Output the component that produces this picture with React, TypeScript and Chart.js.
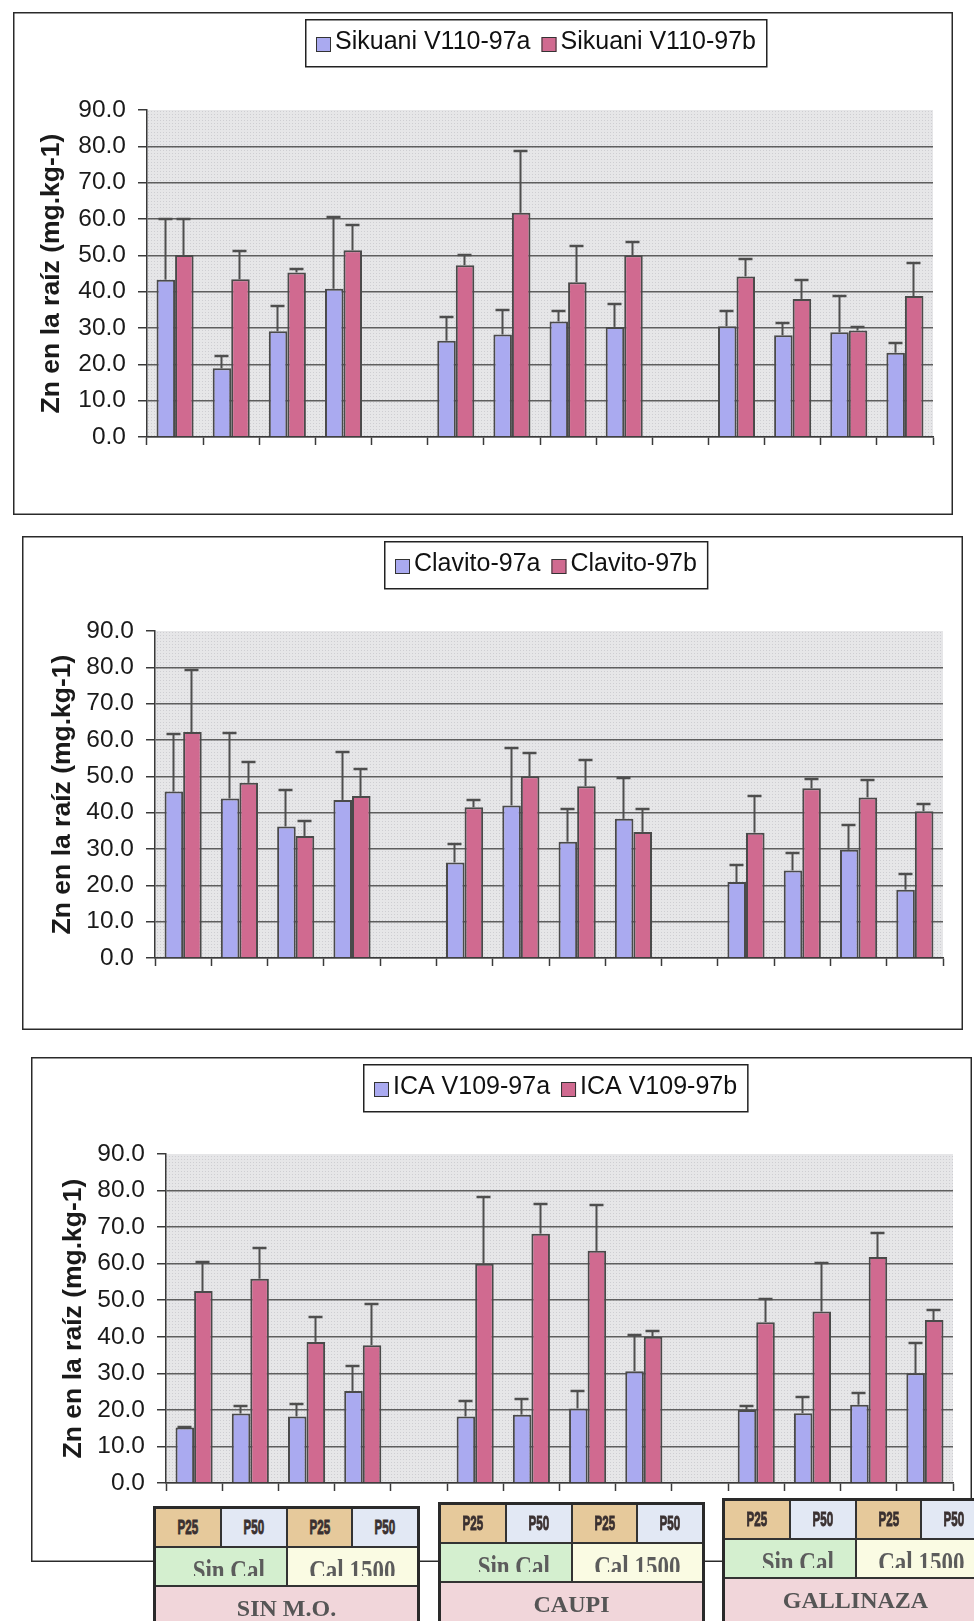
import { useEffect, useRef } from 'react';
import { Chart, registerables } from 'chart.js';

Chart.register(...registerables);

const SANS = '"Liberation Sans", Arial, Helvetica, sans-serif';
const SERIF = '"Liberation Serif", "Times New Roman", serif';

// Treatment levels (organic matter > lime > phosphorus dose)
const ORGANIC = ['SIN M.O.', 'CAUPI', 'GALLINAZA'];
const LIME = ['Sin Cal', 'Cal 1500'];
const DOSE = ['P25', 'P50'];

// Zn in root (mg.kg-1); null is the empty slot between organic-matter groups
const SIKUANI_A = [43.3, 18.9, 29.1, 40.8, null, 26.5, 28.2, 31.8, 30.3, null, 30.5, 28.0, 28.8, 23.2];
const SIKUANI_A_SD = [16.7, 3.3, 6.9, 19.7, null, 6.5, 6.7, 3.0, 6.2, null, 4.2, 3.3, 10.0, 2.6];
const SIKUANI_B = [50.1, 43.4, 45.3, 51.4, null, 47.3, 61.7, 42.6, 50.0, null, 44.2, 38.0, 29.3, 38.8];
const SIKUANI_B_SD = [9.9, 7.8, 0.9, 6.9, null, 2.7, 17.0, 9.9, 3.6, null, 4.7, 5.3, 1.1, 9.0];

const CLAVITO_A = [45.8, 43.9, 36.2, 43.5, null, 26.3, 42.0, 32.0, 38.3, null, 20.9, 24.1, 29.8, 18.8];
const CLAVITO_A_SD = [15.9, 18.0, 10.0, 13.1, null, 5.2, 15.8, 8.9, 11.2, null, 4.8, 4.7, 6.8, 4.4];
const CLAVITO_B = [62.2, 48.2, 33.6, 44.6, null, 41.5, 50.0, 47.3, 34.7, null, 34.5, 46.7, 44.2, 40.4];
const CLAVITO_B_SD = [17.0, 5.8, 4.2, 7.4, null, 2.1, 6.3, 7.2, 6.3, null, 10.0, 2.7, 4.8, 2.1];

const ICA_A = [15.2, 19.0, 18.2, 25.2, null, 18.2, 18.7, 20.4, 30.6, null, 20.0, 19.1, 21.4, 30.0];
const ICA_A_SD = [0.2, 2.0, 3.5, 6.8, null, 4.1, 4.3, 4.7, 10.0, null, 1.0, 4.3, 3.1, 8.4];
const ICA_B = [52.5, 55.9, 38.6, 37.7, null, 60.0, 68.2, 63.5, 40.0, null, 44.0, 46.9, 61.8, 44.6];
const ICA_B_SD = [7.9, 8.4, 6.8, 11.3, null, 18.2, 8.0, 12.5, 1.5, null, 6.3, 13.3, 6.7, 2.6];

const Y_MIN = 0;
const Y_MAX = 90;
const Y_STEP = 10;
const Y_TITLE = 'Zn en la raíz (mg.kg-1)';

// One category per treatment, plus an unlabeled slot between organic groups
const CATEGORIES: string[] = [];
ORGANIC.forEach((org, gi) => {
  LIME.forEach((lime) => DOSE.forEach((dose) => CATEGORIES.push(`${org} ${lime} ${dose}`)));
  if (gi < ORGANIC.length - 1) CATEGORIES.push(`${org} |`);
});

const BLUE = '#AAAAF0';
const RED = '#D06A90';
const BAR_EDGE = '#4a4a4a';
const AXIS = '#3a3a3a';
const GRID = '#5e5e5e';
const ERR = '#4e4e4e';

const TICK_SIZE = 24.5;
const TITLE_SIZE = 26.5;
const LEGEND_SIZE = 25;

type Series = { label: string; data: (number | null)[]; sd: (number | null)[]; color: string };
type Panel = {
  box: { x: number; y: number; w: number; h: number };
  plot: { left: number; top: number; right: number; bottom: number };
  titleX: number;
  legendTop: number;
  series: Series[];
};

const PANELS: Panel[] = [
  {
    box: { x: 13, y: 12, w: 940, h: 503 },
    plot: { left: 134, top: 98, right: 920, bottom: 425 },
    titleX: 39,
    legendTop: 7,
    series: [
      { label: 'Sikuani V110-97a', data: SIKUANI_A, sd: SIKUANI_A_SD, color: BLUE },
      { label: 'Sikuani V110-97b', data: SIKUANI_B, sd: SIKUANI_B_SD, color: RED },
    ],
  },
  {
    box: { x: 22, y: 536, w: 941, h: 494 },
    plot: { left: 133, top: 95, right: 921, bottom: 422 },
    titleX: 41,
    legendTop: 5,
    series: [
      { label: 'Clavito-97a', data: CLAVITO_A, sd: CLAVITO_A_SD, color: BLUE },
      { label: 'Clavito-97b', data: CLAVITO_B, sd: CLAVITO_B_SD, color: RED },
    ],
  },
  {
    box: { x: 31, y: 1057, w: 941, h: 505 },
    plot: { left: 135, top: 97, right: 922, bottom: 426 },
    titleX: 43,
    legendTop: 7,
    series: [
      { label: 'ICA V109-97a', data: ICA_A, sd: ICA_A_SD, color: BLUE },
      { label: 'ICA V109-97b', data: ICA_B, sd: ICA_B_SD, color: RED },
    ],
  },
];

function makePlotFill(ctx: CanvasRenderingContext2D) {
  const tile = document.createElement('canvas');
  tile.width = 3;
  tile.height = 3;
  const t = tile.getContext('2d')!;
  t.fillStyle = '#E6E6E8';
  t.fillRect(0, 0, 3, 3);
  t.fillStyle = '#CECED2';
  t.fillRect(0, 0, 1, 1);
  return ctx.createPattern(tile, 'repeat');
}

function panelPlugins(panel: Panel) {
  const background = {
    id: 'panelBackground',
    beforeDraw(chart: any) {
      const { ctx, width, height, chartArea } = chart;
      ctx.save();
      ctx.fillStyle = '#ffffff';
      ctx.fillRect(0, 0, width, height);
      ctx.strokeStyle = '#2a2a2a';
      ctx.lineWidth = 1.5;
      ctx.strokeRect(0.75, 0.75, width - 1.5, height - 1.5);
      ctx.fillStyle = makePlotFill(ctx) || '#E2E2E4';
      ctx.fillRect(chartArea.left, chartArea.top, chartArea.right - chartArea.left, chartArea.bottom - chartArea.top);
      ctx.restore();
    },
  };

  const errorBars = {
    id: 'errorBars',
    afterDatasetsDraw(chart: any) {
      const { ctx } = chart;
      const yScale = chart.scales.y;
      ctx.save();
      ctx.strokeStyle = ERR;
      chart.data.datasets.forEach((ds: any, di: number) => {
        const meta = chart.getDatasetMeta(di);
        const sd = panel.series[di].sd;
        meta.data.forEach((bar: any, i: number) => {
          const v = ds.data[i];
          const e = sd[i];
          if (v == null || e == null || e <= 0) return;
          const yTop = Math.round(yScale.getPixelForValue(v + e));
          const x = Math.round(bar.x) - 0.5;
          ctx.lineWidth = 2;
          ctx.beginPath();
          ctx.moveTo(x, bar.y);
          ctx.lineTo(x, yTop);
          ctx.stroke();
          ctx.lineWidth = 2.5;
          ctx.beginPath();
          ctx.moveTo(x - 7, yTop);
          ctx.lineTo(x + 7, yTop);
          ctx.stroke();
        });
      });
      ctx.restore();
    },
  };

  const legendBox = {
    id: 'legendBox',
    afterDraw(chart: any) {
      const { ctx, chartArea } = chart;
      ctx.save();
      ctx.font = `${LEGEND_SIZE}px ${SANS}`;
      const items = chart.data.datasets.map((ds: any) => ({
        text: ds.label as string,
        color: ds.backgroundColor as string,
        w: ctx.measureText(ds.label).width,
      }));
      const padL = 11, padR = 10, sw = 15, gap = 4, itemGap = 11, h = 47;
      const total =
        padL + padR + items.reduce((s: number, it: any) => s + sw + gap + it.w, 0) + itemGap * (items.length - 1);
      const cx = (chartArea.left + chartArea.right) / 2 - 4;
      const x0 = Math.round(cx - total / 2);
      const y0 = panel.legendTop;
      ctx.fillStyle = '#ffffff';
      ctx.fillRect(x0, y0, total, h);
      ctx.strokeStyle = '#222222';
      ctx.lineWidth = 1.5;
      ctx.strokeRect(x0 + 0.75, y0 + 0.75, total, h);
      let x = x0 + padL;
      items.forEach((it: any) => {
        ctx.fillStyle = it.color;
        ctx.fillRect(x, y0 + 18, sw, sw);
        ctx.strokeStyle = '#333333';
        ctx.lineWidth = 1;
        ctx.strokeRect(x + 0.5, y0 + 18.5, sw - 1, sw - 1);
        x += sw + gap;
        ctx.fillStyle = '#111111';
        ctx.textAlign = 'left';
        ctx.textBaseline = 'middle';
        ctx.fillText(it.text, x, y0 + 23);
        x += it.w + itemGap;
      });
      ctx.restore();
    },
  };

  return [background, errorBars, legendBox];
}

function BarPanel({ panel }: { panel: Panel }) {
  const ref = useRef<HTMLCanvasElement>(null);

  useEffect(() => {
    const canvas = ref.current;
    if (!canvas) return;
    const { box, plot, titleX } = panel;
    const titlePad = 2;
    const padLeft = titleX - (TITLE_SIZE * 1.2) / 2 - titlePad;
    const xHeight = 20;

    const chart = new Chart(canvas, {
      type: 'bar',
      data: {
        labels: CATEGORIES,
        datasets: panel.series.map((s) => ({
          label: s.label,
          data: s.data,
          backgroundColor: s.color,
          borderColor: BAR_EDGE,
          borderWidth: 2,
          barPercentage: 1.0,
          categoryPercentage: 0.66,
        })),
      },
      options: {
        responsive: false,
        animation: false,
        devicePixelRatio: 1,
        layout: {
          padding: {
            left: padLeft,
            right: box.w - plot.right,
            top: plot.top,
            bottom: box.h - plot.bottom - xHeight,
          },
        },
        plugins: {
          legend: { display: false },
          tooltip: { enabled: false },
        },
        scales: {
          x: {
            type: 'category',
            offset: true,
            grid: {
              display: true,
              offset: true,
              drawOnChartArea: false,
              drawTicks: true,
              tickLength: 8,
              tickColor: AXIS,
              tickWidth: 1.5,
            },
            border: { display: true, color: AXIS, width: 1.5 },
            ticks: { display: false },
            afterFit: (scale: any) => {
              scale.height = xHeight;
            },
          },
          y: {
            min: Y_MIN,
            max: Y_MAX,
            ticks: {
              stepSize: Y_STEP,
              padding: 12,
              color: '#1a1a1a',
              font: { family: SANS, size: TICK_SIZE },
              callback: (v: any) => Number(v).toFixed(1),
            },
            grid: {
              color: (ctx: any) => (ctx.tick && ctx.tick.value === Y_MAX ? 'rgba(0,0,0,0)' : GRID),
              lineWidth: 1.5,
              drawTicks: true,
              tickLength: 9,
              tickColor: AXIS,
              tickWidth: 1.5,
            },
            border: { display: true, color: AXIS, width: 1.5 },
            title: {
              display: true,
              text: Y_TITLE,
              color: '#1a1a1a',
              font: { family: SANS, size: TITLE_SIZE, weight: 'bold' },
              padding: { top: titlePad, bottom: 0 },
            },
            afterFit: (scale: any) => {
              scale.width = plot.left - padLeft;
            },
          },
        },
      },
      plugins: panelPlugins(panel),
    } as any);

    return () => chart.destroy();
  }, [panel]);

  return (
    <canvas
      ref={ref}
      width={panel.box.w}
      height={panel.box.h}
      style={{
        position: 'absolute',
        left: panel.box.x,
        top: panel.box.y,
        width: panel.box.w,
        height: panel.box.h,
      }}
    />
  );
}

// Treatment key under the last panel
const GROUP_POS = [
  { x: 154, y: 1507 },
  { x: 439, y: 1503 },
  { x: 723, y: 1499 },
];
const DOSE_BG = ['#E6C99B', '#E2E8F4'];
const LIME_BG = ['#D4EFCF', '#FAFBE3'];
const ORGANIC_BG = '#F1D6DA';
const CELL_LINE = '#333333';

function Cell({
  x, y, w, h, bg, children,
}: { x: number; y: number; w: number; h: number; bg: string; children?: any }) {
  return (
    <div
      style={{
        position: 'absolute',
        left: x,
        top: y,
        width: w + 2,
        height: h + 2,
        boxSizing: 'border-box',
        border: `2px solid ${CELL_LINE}`,
        background: bg,
        overflow: 'hidden',
      }}
    >
      {children}
    </div>
  );
}

function TreatmentKey({ org, x, y }: { org: string; x: number; y: number }) {
  const W = 263;
  const rowH = [39, 39, 46];
  const cw = W / 4;
  const cells: any[] = [];
  [0, 1, 2, 3].forEach((i) => {
    const d = i % 2;
    cells.push(
      <Cell key={`d${i}`} x={x + i * cw} y={y} w={cw} h={rowH[0]} bg={DOSE_BG[d]}>
        <div
          style={{
            position: 'absolute',
            left: 0,
            right: 0,
            top: 7,
            textAlign: 'center',
            font: `bold 20px ${SANS}`,
            lineHeight: '22px',
            color: '#3a3030',
          }}
        >
          <span
            style={{
              display: 'inline-block',
              transform: 'scaleX(0.58)',
              WebkitTextStroke: '0.9px #3a3030',
            }}
          >
            {DOSE[d]}
          </span>
        </div>
      </Cell>,
    );
  });
  LIME.forEach((lime, j) => {
    cells.push(
      <Cell key={`l${j}`} x={x + j * 2 * cw} y={y + rowH[0]} w={2 * cw} h={rowH[1]} bg={LIME_BG[j]}>
        <div style={{ position: 'absolute', left: 0, right: 0, top: 0, height: 28, overflow: 'hidden' }}>
          <div
            style={{
              position: 'absolute',
              left: j === 0 ? 16 : 0,
              right: 0,
              top: 8,
              textAlign: 'center',
              font: `bold 23px ${SERIF}`,
              lineHeight: '23px',
              color: '#5c5c5c',
              transform: 'scaleY(1.25)',
              transformOrigin: 'top',
            }}
          >
            {lime}
          </div>
        </div>
      </Cell>,
    );
  });
  cells.push(
    <Cell key="o" x={x} y={y + rowH[0] + rowH[1]} w={W} h={rowH[2]} bg={ORGANIC_BG}>
      <div
        style={{
          position: 'absolute',
          left: 0,
          right: 0,
          top: 9,
          textAlign: 'center',
          font: `bold 24px ${SERIF}`,
          lineHeight: '24px',
          color: '#555555',
        }}
      >
        {org}
      </div>
    </Cell>,
  );
  cells.push(
    <div
      key="frame"
      style={{
        position: 'absolute',
        left: x - 1,
        top: y - 1,
        width: W + 4,
        height: rowH[0] + rowH[1] + rowH[2] + 4,
        boxSizing: 'border-box',
        border: '3px solid #2a2a2a',
      }}
    />,
  );
  return <>{cells}</>;
}

export default function App() {
  return (
    <div
      style={{
        position: 'absolute',
        left: 0,
        top: 0,
        width: 974,
        height: 1621,
        overflow: 'hidden',
        background: '#ffffff',
      }}
    >
      {PANELS.map((p, i) => (
        <BarPanel key={i} panel={p} />
      ))}
      {ORGANIC.map((org, i) => (
        <TreatmentKey key={org} org={org} x={GROUP_POS[i].x} y={GROUP_POS[i].y} />
      ))}
    </div>
  );
}
